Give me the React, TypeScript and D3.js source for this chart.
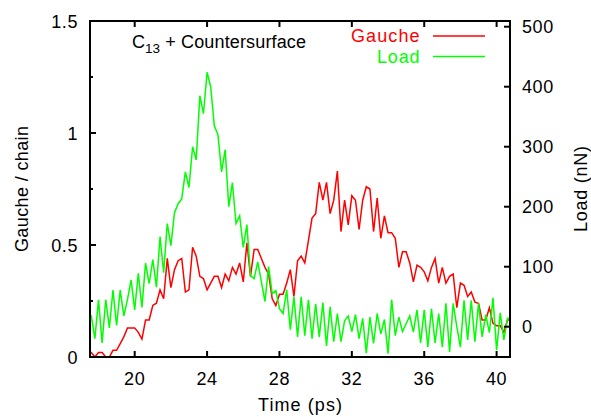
import React from "react";
import * as d3 from "d3";

// Sample times (ps), 0.2 ps spacing
const times: number[] = d3.range(0, 118).map((i) => +(17.4 + i * 0.2).toFixed(1));

// Gauche defects per chain (left axis)
const gauche: number[] = [
  0.02, 0.02, 0.0, 0.02, 0.02, 0.0, 0.0, 0.03, 0.03, 0.06,
  0.09, 0.13, 0.13, 0.13, 0.11, 0.08, 0.165, 0.165, 0.23, 0.24,
  0.3, 0.26, 0.44, 0.31, 0.39, 0.43, 0.44, 0.29, 0.3, 0.49,
  0.45, 0.36, 0.35, 0.3, 0.33, 0.36, 0.36, 0.31, 0.37, 0.34,
  0.4, 0.37, 0.42, 0.335, 0.51, 0.36, 0.48, 0.48, 0.44, 0.4,
  0.37, 0.26, 0.23, 0.28, 0.28, 0.33, 0.39, 0.27, 0.43, 0.45,
  0.42, 0.52, 0.62, 0.64, 0.78, 0.7, 0.78, 0.64, 0.7, 0.83,
  0.56, 0.7, 0.59, 0.72, 0.7, 0.57, 0.7, 0.76, 0.75, 0.56,
  0.71, 0.53, 0.63, 0.555, 0.555, 0.53, 0.4, 0.47, 0.47, 0.42,
  0.335, 0.41, 0.4, 0.38, 0.34, 0.4, 0.44, 0.33, 0.4, 0.33,
  0.36, 0.37, 0.22, 0.33, 0.32, 0.27, 0.29, 0.245, 0.24, 0.165,
  0.165, 0.22, 0.15, 0.14, 0.14, 0.11, 0.165, 0.165,
];

// Load in nN (right axis)
const load: number[] = [
  20, 18, -20, 45, -27, 45, -2, 61, 2, 61,
  18, 45, 78, 28, 89, 32, 106, 72, 112, 66,
  150, 90, 172, 135, 190, 205, 213, 258, 232, 300,
  278, 385, 355, 424, 400, 335, 320, 258, 295, 200,
  240, 172, 185, 132, 170, 85, 80, 108, 75, 42,
  100, 55, 60, 30, 22, 62, -5, 50, -17, 50,
  -15, 45, -20, 38, -17, 40, -32, 33, -25, 22,
  -25, 10, 18, -8, 20, -20, 14, -44, 16, -28,
  22, -12, 12, -45, 45, -15, 16, -8, 5, 18,
  -9, 28, -27, 28, -34, 30, -27, 22, -34, 39,
  -42, 39, 0, -34, 44, -22, 44, -25, 39, -17,
  20, -10, 48, -39, 23, -22, 14, 14,
];

const xTicks = [20, 24, 28, 32, 36, 40];
const yLeftTicks = [0, 0.5, 1, 1.5];
const yLeftTickLabels = ["0", "0.5", "1", "1.5"];
const yLeftMinor = [0.25, 0.75, 1.25];
const yRightTicks = [0, 100, 200, 300, 400, 500];

const seriesNames = ["Gauche", "Load"];
const seriesColors = ["#ff0000", "#00ff00"];

export default function App() {
  const W = 591;
  const H = 417;
  const L = 90, R = 510, T = 21, B = 357;
  const x = d3.scaleLinear().domain([17.53, 40.74]).range([L, R]);
  const yL = d3.scaleLinear().domain([0, 1.5]).range([B, T]);
  const yR = d3.scaleLinear().domain([-50.5, 509.5]).range([B, T]);

  const lineG = d3.line<number>().x((_, i) => x(times[i])).y((d) => yL(d));
  const lineL = d3.line<number>().x((_, i) => x(times[i])).y((d) => yR(d));

  const font = "'Liberation Sans', Arial, Helvetica, sans-serif";
  const fs = 18;
  const ls = 0.6;
  const legendW = [68.5, 42.5];

  return (
    <svg
      width={W}
      height={H}
      style={{ position: "absolute", left: 0, top: 0, background: "#fff" }}
      fontFamily={font}
    >
      <defs>
        <clipPath id="plotclip">
          <rect x={L} y={T} width={R - L} height={B - T} />
        </clipPath>
      </defs>
      <rect x={0} y={0} width={W} height={H} fill="#fff" />

      <g clipPath="url(#plotclip)" fill="none" strokeWidth={1.5} strokeLinejoin="miter">
        <path d={lineG(gauche) || ""} stroke={seriesColors[0]} />
        <path d={lineL(load) || ""} stroke={seriesColors[1]} />
      </g>

      {/* frame */}
      <rect x={L} y={T} width={R - L} height={B - T} fill="none" stroke="#000" strokeWidth={2} />

      {/* x ticks bottom & top */}
      {xTicks.map((t) => (
        <g key={"x" + t}>
          <line x1={x(t)} x2={x(t)} y1={B} y2={B - 6} stroke="#000" strokeWidth={2} />
          <line x1={x(t)} x2={x(t)} y1={T} y2={T + 6} stroke="#000" strokeWidth={2} />
          <text x={x(t)} y={385} textAnchor="middle" fontSize={fs} letterSpacing={ls}>
            {t}
          </text>
        </g>
      ))}

      {/* left y ticks */}
      {yLeftTicks.map((v, i) => (
        <g key={"yl" + v}>
          <line x1={L} x2={L + 6} y1={yL(v)} y2={yL(v)} stroke="#000" strokeWidth={2} />
          <text x={78} y={yL(v) + 6.5} textAnchor="end" fontSize={fs} letterSpacing={ls}>
            {yLeftTickLabels[i]}
          </text>
        </g>
      ))}
      {yLeftMinor.map((v) => (
        <line key={"ylm" + v} x1={L} x2={L + 3} y1={yL(v)} y2={yL(v)} stroke="#000" strokeWidth={2} />
      ))}

      {/* right y ticks */}
      {yRightTicks.map((v) => (
        <g key={"yr" + v}>
          <line x1={R} x2={R - 6} y1={yR(v)} y2={yR(v)} stroke="#000" strokeWidth={2} />
          <text x={522} y={yR(v) + 6.5} textAnchor="start" fontSize={fs} letterSpacing={ls}>
            {v}
          </text>
        </g>
      ))}

      {/* axis titles */}
      <text x={258} y={411} fontSize={fs} textLength={84} lengthAdjust="spacing">
        Time (ps)
      </text>
      <text
        transform={`translate(28, ${(T + B) / 2 + 63}) rotate(-90)`}
        fontSize={fs}
        textLength={126}
        lengthAdjust="spacing"
      >
        Gauche / chain
      </text>
      <text
        transform={`translate(587, ${(T + B) / 2 + 43}) rotate(-90)`}
        fontSize={fs}
        textLength={86}
        lengthAdjust="spacing"
      >
        Load (nN)
      </text>

      {/* title inside plot */}
      <text x={132} y={48} fontSize={fs}>
        C<tspan fontSize={13.5} dy={5}>13</tspan>
        <tspan dy={-5} letterSpacing={0.15}> + Countersurface</tspan>
      </text>

      {/* legend */}
      {seriesNames.map((n, i) => (
        <g key={n}>
          <text
            x={419.5 - legendW[i]}
            y={42 + i * 20.5}
            fontSize={fs}
            fill={seriesColors[i]}
            textLength={legendW[i]}
            lengthAdjust="spacing"
          >
            {n}
          </text>
          <line
            x1={433}
            x2={485}
            y1={36 + i * 20.5}
            y2={36 + i * 20.5}
            stroke={seriesColors[i]}
            strokeWidth={1.5}
          />
        </g>
      ))}
    </svg>
  );
}
